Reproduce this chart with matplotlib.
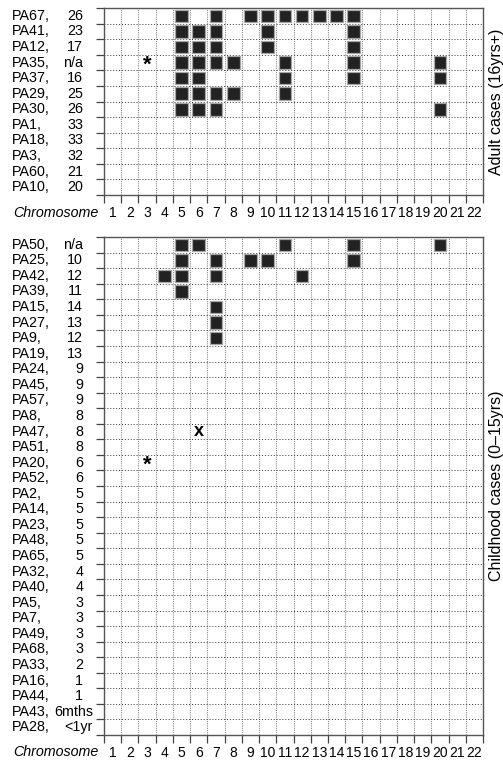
import numpy as np
import matplotlib
matplotlib.use('Agg')
import matplotlib.pyplot as plt
from matplotlib.patches import Rectangle
from matplotlib.transforms import blended_transform_factory

plt.rcParams['font.family'] = ['Liberation Sans', 'DejaVu Sans']

chromosomes = list(range(1, 23))

# adult cases
adult_ids = ['PA67', 'PA41', 'PA12', 'PA35', 'PA37', 'PA29', 'PA30',
             'PA1', 'PA18', 'PA3', 'PA60', 'PA10']
adult_ages = ['26', '23', '17', 'n/a', '16', '25', '26', '33', '33', '32', '21', '20']
adult_gains = [[5, 7, 9, 10, 11, 12, 13, 14, 15],
               [5, 6, 7, 10, 15],
               [5, 6, 7, 10, 15],
               [5, 6, 7, 8, 11, 15, 20],
               [5, 6, 11, 15, 20],
               [5, 6, 7, 8, 11],
               [5, 6, 7, 20],
               [], [], [], [], []]
adult_marks = [('PA35', 3, '*')]

# childhood cases
child_ids = ['PA50', 'PA25', 'PA42', 'PA39', 'PA15', 'PA27', 'PA9', 'PA19',
             'PA24', 'PA45', 'PA57', 'PA8', 'PA47', 'PA51', 'PA20', 'PA52',
             'PA2', 'PA14', 'PA23', 'PA48', 'PA65', 'PA32', 'PA40', 'PA5',
             'PA7', 'PA49', 'PA68', 'PA33', 'PA16', 'PA44', 'PA43', 'PA28']
child_ages = ['n/a', '10', '12', '11', '14', '13', '12', '13', '9', '9', '9',
              '8', '8', '8', '6', '6', '5', '5', '5', '5', '5', '4', '4', '3',
              '3', '3', '3', '2', '1', '1', '6mths', '<1yr']
child_gains = [[5, 6, 11, 15, 20],
               [5, 7, 9, 10, 15],
               [4, 5, 7, 12],
               [5], [7], [7], [7]] + [[] for _ in range(25)]
child_marks = [('PA47', 6, 'x'), ('PA20', 3, '*')]

W, H = 503, 762
fig = plt.figure(figsize=(W / 100, H / 100), dpi=100)


def px_axes(left, top, right, bottom):
    return fig.add_axes([left / W, 1 - bottom / H, (right - left) / W, (bottom - top) / H])


def draw_panel(ax, ids, ages, gains, marks, side_label):
    n = len(ids)
    ax.set_xlim(0.5, 22.5)
    ax.set_ylim(n - 0.5, -0.5)

    # grid at cell boundaries
    for xb in np.arange(1.5, 22.5):
        ax.axvline(xb, color='#8a8a8a', lw=0.8, ls=(0, (1, 1)), zorder=1)
    for yb in np.arange(0.5, n - 0.5):
        ax.axhline(yb, color='#333333', lw=0.7, ls=(0, (1, 2)), zorder=1)

    for i, chrs in enumerate(gains):
        for c in chrs:
            ax.add_patch(Rectangle((c - 0.37, i - 0.4), 0.74, 0.8,
                                   facecolor='#222222', edgecolor='#a5a5a5',
                                   lw=0.9, zorder=3))
    for pid, c, sym in marks:
        i = ids.index(pid)
        if sym == '*':
            ax.text(c, i + 0.15, '*', ha='center', va='center', fontsize=16,
                    fontweight='bold', zorder=4)
        else:
            ax.text(c, i, 'x', ha='center', va='center', fontsize=13,
                    fontweight='bold', zorder=4)

    # ticks: lines on boundaries, labels on chromosomes
    ax.set_xticks(np.arange(0.5, 23))
    ax.set_xticklabels([])
    ax.set_xticks(chromosomes, minor=True)
    ax.set_xticklabels([str(c) for c in chromosomes], minor=True, fontsize=10)
    ax.set_yticks(np.arange(-0.5, n))
    ax.set_yticklabels([])
    ax.tick_params(axis='both', which='major', direction='out', length=6,
                   width=0.9, color='#444444')
    ax.tick_params(axis='x', which='minor', length=0, pad=8)
    ax.tick_params(axis='y', which='minor', left=False)
    for sp in ax.spines.values():
        sp.set_color('#555555')
        sp.set_linewidth(1.0)

    tr = blended_transform_factory(fig.transFigure, ax.transData)
    for i, (pid, age) in enumerate(zip(ids, ages)):
        ax.text(12 / W, i, pid + ',', transform=tr, ha='left', va='center',
                fontsize=10.3, clip_on=False)
        xa = 93 if len(age) > 3 else 83
        ax.text(xa / W, i, age, transform=tr, ha='right', va='center',
                fontsize=10.3, clip_on=False)

    ax.text(1 + 13.5 / (ax.get_position().width * W), 0.5, side_label,
            transform=ax.transAxes, rotation=90, ha='center', va='center',
            fontsize=11.5, clip_on=False)


ax1 = px_axes(104, 8, 483, 195)
ax2 = px_axes(104, 237, 483, 735)
draw_panel(ax1, adult_ids, adult_ages, adult_gains, adult_marks, 'Adult cases (16yrs+)')
draw_panel(ax2, child_ids, child_ages, child_gains, child_marks, 'Childhood cases (0\u201315yrs)')

# axis captions next to the chromosome numbers
fig.text(98 / W, 1 - 213 / H, 'Chromosome', ha='right', va='center',
         fontsize=10.3, style='italic')
fig.text(98 / W, 1 - 752 / H, 'Chromosome', ha='right', va='center',
         fontsize=10.3, style='italic')

fig.savefig('out.png', dpi=100)
